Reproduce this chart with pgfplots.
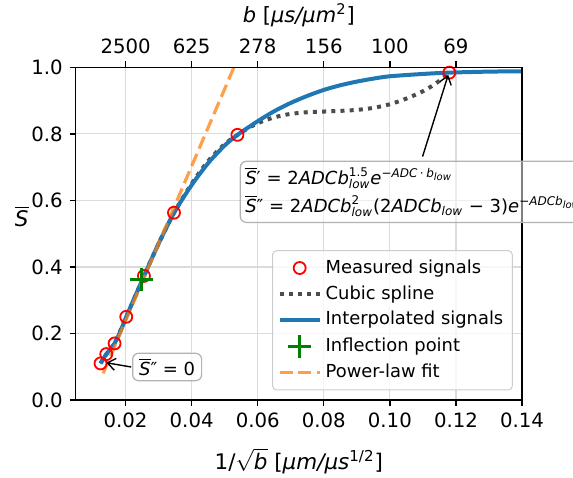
\documentclass[border=0pt]{standalone}
\usepackage{amsmath}
\usepackage{fontspec}
\setmainfont{DejaVu Sans}
\usepackage{pgfplots}
\pgfplotsset{compat=1.18}
\usetikzlibrary{arrows.meta}
\definecolor{mplblue}{HTML}{1F77B4}
\definecolor{mplorange}{HTML}{FF7F0E}
\definecolor{mplgreen}{HTML}{008000}
\newcommand{\vi}[1]{\text{\itshape #1}}

\pgfplotstableread{
x y
0.01242 0.110
0.01415 0.138
0.01667 0.170
0.0202 0.250
0.02556 0.373
0.03465 0.563
0.05385 0.797
0.1180 0.984
}\measured

\pgfplotstableread{
x y
0.0124 0.110
0.0142 0.138
0.0167 0.171
0.0202 0.250
0.0256 0.373
0.0300 0.470
0.0347 0.563
0.0400 0.650
0.0450 0.718
0.0500 0.769
0.0539 0.797
0.0580 0.822
0.0620 0.840
0.0660 0.852
0.0700 0.860
0.0750 0.865
0.0800 0.867
0.0850 0.869
0.0900 0.872
0.0950 0.878
0.1000 0.889
0.1050 0.906
0.1100 0.928
0.1140 0.952
0.1180 0.984
}\spline

\pgfplotstableread{
x y
0.0124 0.110
0.0142 0.138
0.0167 0.171
0.0185 0.208
0.0202 0.250
0.0230 0.314
0.0256 0.373
0.0300 0.470
0.0347 0.563
0.0400 0.646
0.0450 0.712
0.0500 0.765
0.0539 0.797
0.0600 0.838
0.0650 0.868
0.0700 0.893
0.0750 0.914
0.0800 0.932
0.0850 0.946
0.0900 0.957
0.0950 0.966
0.1000 0.973
0.1100 0.980
0.1180 0.984
0.1300 0.987
0.1400 0.988
}\interp

\pgfplotstableread{
x y
0.0249 0.361
}\inflect

\pgfplotstableread{
x y
0.0132 0.080
0.0200 0.238
0.0300 0.470
0.0400 0.703
0.0500 0.935
0.0545 1.040
}\powerlaw

\begin{document}
\begin{tikzpicture}
\begin{axis}[
  at={(0,0)}, anchor=south west,
  scale only axis, width=223.15pt, height=166.35pt,
  xmin=0.0049, xmax=0.14, ymin=0, ymax=1,
  xtick={0.02,0.04,0.06,0.08,0.10,0.12,0.14},
  ytick={0,0.2,0.4,0.6,0.8,1.0},
  xtick pos=bottom, ytick pos=left, tick align=outside,
  major tick length=3pt,
  scaled x ticks=false, scaled y ticks=false,
  /pgf/number format/assume math mode=true,
  x tick label style={/pgf/number format/.cd, fixed, fixed zerofill, precision=2},
  y tick label style={/pgf/number format/.cd, fixed, fixed zerofill, precision=1},
  tick label style={font=\fontsize{9.85}{11}\selectfont},
  tick style={black, line width=0.7pt},
  axis line style={line width=0.7pt},
  grid=major, grid style={black!14, line width=0.6pt},
  every axis x label/.style={at={(axis description cs:0.5,0)}, anchor=center, yshift=-30.5pt},
  every axis y label/.style={at={(axis description cs:0,0.553)}, anchor=center, xshift=-27pt},
  xlabel={\fontsize{10.74}{12}\selectfont $\text{1/}\sqrt{\vi{b}}$ [\vi{μm/μs}$^{\text{1/2}}$]},
  ylabel={\fontsize{10.74}{12}\selectfont $\overline{\vi{S}}$},
  legend cell align=left,
  legend style={at={(1,0)}, anchor=south east, xshift=-4.6pt, yshift=4.8pt,
    draw=black!20, line width=0.5pt, rounded corners=2pt,
    fill=white, fill opacity=0.8, text opacity=1,
    font=\fontsize{8.95}{10.7}\selectfont, row sep=0.6pt,
    inner xsep=2.5pt, inner ysep=2.5pt},
]
\addplot[only marks, mark=o, mark size=3pt, mark options={red, line width=0.9pt},
  legend image code/.code={\draw[red, line width=0.9pt] (10pt,0pt) circle (3pt);}]
  table {\measured};
\addlegendentry{Measured signals}
\addplot[black!70, line width=2pt, dash pattern=on 2pt off 2.6pt, smooth,
  legend image code/.code={\draw[black!70, line width=2pt, dash pattern=on 2pt off 2.6pt] (0pt,0pt) -- (20pt,0pt);}]
  table {\spline};
\addlegendentry{Cubic spline}
\addplot[mplblue, line width=2pt, smooth,
  legend image code/.code={\draw[mplblue, line width=2pt] (0pt,0pt) -- (20pt,0pt);}]
  table {\interp};
\addlegendentry{Interpolated signals}
\addplot[only marks, mark=+, mark size=5.8pt, mark options={mplgreen, line width=1.4pt},
  legend image code/.code={\draw[mplgreen, line width=1.4pt] (4.2pt,0pt) -- (15.8pt,0pt) (10pt,-5.8pt) -- (10pt,5.8pt);}]
  table {\inflect};
\addlegendentry{Inflection point}
\addplot[mplorange, draw opacity=0.75, line width=1.6pt, dash pattern=on 6.5pt off 2.9pt,
  legend image code/.code={\draw[mplorange, draw opacity=0.75, line width=1.6pt, dash pattern=on 6.5pt off 2.9pt] (0pt,0pt) -- (20pt,0pt);}]
  table {\powerlaw};
\addlegendentry{Power-law fit}
\coordinate (F) at (axis cs:0.05455,0.6256);
\coordinate (A1t) at (axis cs:0.1099,0.7317);
\coordinate (A1h) at (axis cs:0.11767,0.9774);
\coordinate (S2) at (axis cs:0.03258,0.0992);
\coordinate (A2t) at (axis cs:0.0217,0.0992);
\coordinate (A2h) at (axis cs:0.01415,0.112);
\end{axis}
\begin{axis}[
  at={(0,0)}, anchor=south west,
  scale only axis, width=223.15pt, height=166.35pt,
  xmin=0.0049, xmax=0.14, ymin=0, ymax=1,
  xtick={0.02,0.04,0.06,0.08,0.10,0.12},
  xticklabels={2500,625,278,156,100,69},
  xtick pos=top, xticklabel pos=top, ytick=\empty,
  tick align=outside, major tick length=3pt,
  /pgf/number format/assume math mode=true,
  tick label style={font=\fontsize{9.85}{11}\selectfont},
  tick style={black, line width=0.7pt},
  axis line style={line width=0.7pt},
  every axis x label/.style={at={(axis description cs:0.5,1)}, anchor=center, yshift=26pt},
  xlabel={\fontsize{10.5}{12}\selectfont \vi{b} [\vi{μs/μm}$^{\text{2}}$]},
]
\end{axis}
\node[anchor=west, align=left, font=\fontsize{9}{14}\selectfont,
  draw=black!30, line width=0.6pt, rounded corners=3pt, fill=white, fill opacity=0.5, text opacity=1,
  inner xsep=2.5pt, inner ysep=3pt] at (F)
  {$\overline{\vi{S}}\text{′ = 2}\vi{ADCb}^{\text{1.5}}_{\vi{low}}\vi{e}^{\text{−}\vi{ADC}\,\text{·}\,\vi{b}_{\vi{low}}}$\\
   $\overline{\vi{S}}\text{″ = 2}\vi{ADCb}^{\text{2}}_{\vi{low}}\text{(2}\vi{ADCb}_{\vi{low}}\text{ − 3)}\vi{e}^{\text{−}\vi{ADCb}_{\vi{low}}}$};
\draw[-{Straight Barb[length=4pt,width=6pt]}, line width=0.7pt] (A1t) -- (A1h);
\node[anchor=center, font=\fontsize{9}{11}\selectfont,
  draw=black!30, line width=0.6pt, rounded corners=3pt, fill=white, fill opacity=0.8, text opacity=1,
  inner xsep=3.2pt, inner ysep=2.5pt] at (S2)
  {$\overline{\vi{S}}\text{″ = 0}$};
\draw[-{Straight Barb[length=4pt,width=6pt]}, line width=0.7pt] (A2t) -- (A2h);
\pgfresetboundingbox
\path[use as bounding box] (-37.85pt,-38.5pt) rectangle (248.65pt,200pt);
\end{tikzpicture}
\end{document}
